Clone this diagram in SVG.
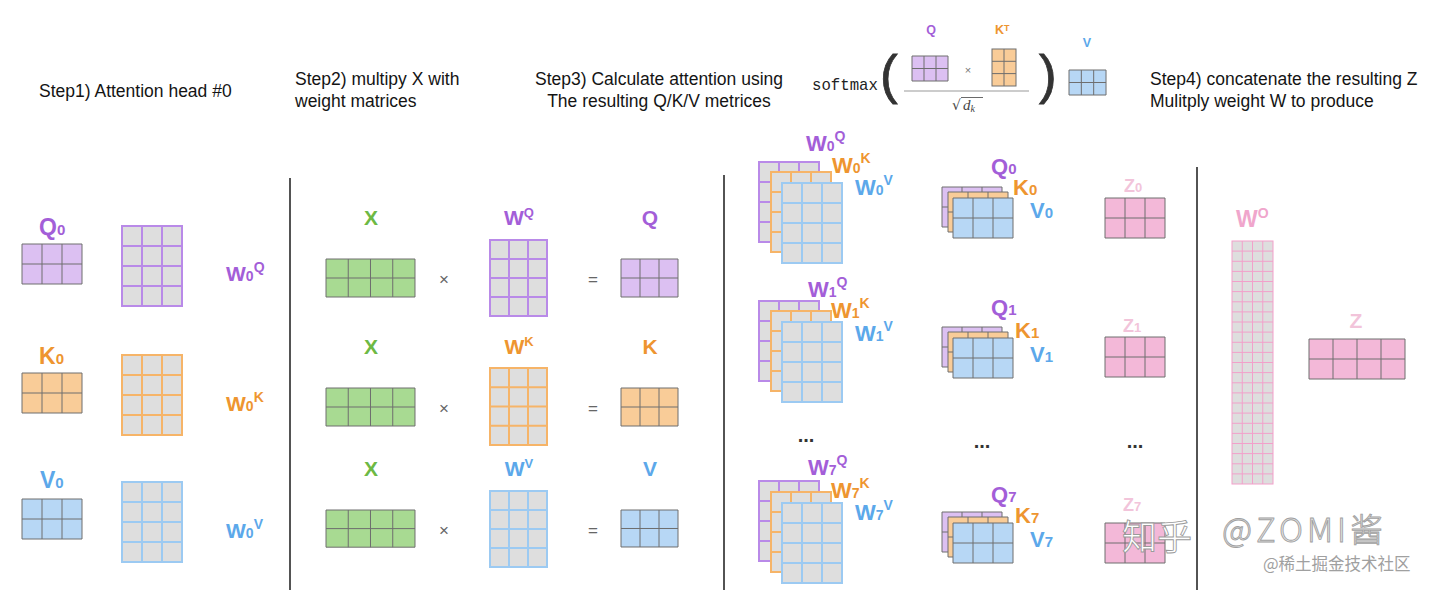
<svg xmlns="http://www.w3.org/2000/svg" xmlns:xlink="http://www.w3.org/1999/xlink" width="1440" height="590" viewBox="0 0 1440 590">
<style>
.step{font-family:"Liberation Sans",Arial,sans-serif;font-size:17.5px;fill:#141414}
.lbl{font-family:"Liberation Sans",Arial,sans-serif;font-weight:bold}
.pu{fill:#a35ed8}.or{fill:#ee9530}.bl{fill:#5ca8ea}.gr{fill:#6db944}.pk{fill:#f2c4da}.pk2{fill:#f0a6cc}
.op{font-family:"Liberation Sans",Arial,sans-serif;font-size:17px;fill:#666}
.dots{font-family:"Liberation Sans",Arial,sans-serif;font-size:20px;font-weight:bold;fill:#333}
.div{stroke:#1a1a1a;stroke-width:1.5}
.wm{stroke-width:2;fill:#dedede}
.mm{stroke:#6e6e6e;stroke-width:1}
</style>
<defs>
<g id="w34">
<rect x="0" y="0" width="60" height="80" class="wm" stroke="currentColor" vector-effect="non-scaling-stroke"/>
<path d="M20 0V80M40 0V80M0 20H60M0 40H60M0 60H60" stroke="currentColor" stroke-width="2" fill="none" vector-effect="non-scaling-stroke"/>
</g>
<g id="m32">
<rect x="0" y="0" width="60" height="40" fill="currentColor" class="mm" vector-effect="non-scaling-stroke"/>
<path d="M20 0V40M40 0V40M0 20H60" class="mm" fill="none" vector-effect="non-scaling-stroke"/>
</g>
<g id="m42">
<rect x="0" y="0" width="96" height="40" fill="currentColor" class="mm" vector-effect="non-scaling-stroke"/>
<path d="M24 0V40M48 0V40M72 0V40M0 20H96" class="mm" fill="none" vector-effect="non-scaling-stroke"/>
</g>
</defs>

<rect width="1440" height="590" fill="#ffffff"/>

<g id="titles">
<text class="step" x="39" y="97">Step1) Attention head #0</text>
<text class="step" x="295" y="85">Step2) multipy X with</text>
<text class="step" x="295" y="107">weight matrices</text>
<text class="step" x="659" y="85" text-anchor="middle">Step3) Calculate attention using</text>
<text class="step" x="659" y="107" text-anchor="middle">The resulting Q/K/V metrices</text>
<text class="step" x="1150" y="85">Step4) concatenate the resulting Z</text>
<text class="step" x="1150" y="107">Mulitply weight W to produce</text>
</g>

<g id="connectors">
<line class="div" x1="290" y1="178" x2="290" y2="590"/>
<line class="div" x1="724" y1="175" x2="724" y2="590"/>
<line class="div" x1="1197" y1="167" x2="1197" y2="590"/>
</g>

<g id="formula">
<text x="812" y="90" font-family="'Liberation Mono','DejaVu Sans Mono',monospace" font-size="15.7" fill="#222">softmax</text>
<text x="880" y="93" font-family="'Liberation Sans',Arial,sans-serif" font-size="53" fill="#333" stroke="#333" stroke-width="0.8">(</text>
<text x="1039" y="93" font-family="'Liberation Sans',Arial,sans-serif" font-size="53" fill="#333" stroke="#333" stroke-width="0.8">)</text>
<text class="lbl pu" x="931" y="34" font-size="12.5" text-anchor="middle">Q</text>
<use href="#m32" transform="translate(912,56) scale(0.6,0.625)" style="color:#dcc0f2"/>
<text x="968" y="74" font-family="'Liberation Sans',Arial,sans-serif" font-size="11" fill="#777" text-anchor="middle">×</text>
<text class="lbl or" x="995" y="34" font-size="12.5">K<tspan font-size="9" dy="-3">T</tspan></text>
<g>
<rect x="992" y="49" width="24" height="37" fill="#f9cc98" class="mm"/>
<path d="M1004 49V86M992 61.3H1016M992 73.6H1016" class="mm" fill="none"/>
</g>
<line x1="904" y1="91" x2="1029" y2="91" stroke="#999" stroke-width="1"/>
<text x="952" y="110" font-family="'DejaVu Serif','Liberation Serif',serif" font-size="14" fill="#444">√</text>
<line x1="961" y1="97.5" x2="983" y2="97.5" stroke="#444" stroke-width="0.8"/>
<text x="963" y="110" font-family="'Liberation Serif',serif" font-style="italic" font-size="15" fill="#444">d<tspan font-size="10" dy="2">k</tspan></text>
<text class="lbl bl" x="1087" y="47" font-size="12.5" text-anchor="middle">V</text>
<use href="#m32" transform="translate(1069,70) scale(0.617,0.625)" style="color:#b7d7f5"/>
</g>

<g id="step1-Q0">
<text class="lbl pu" x="39" y="235" font-size="23">Q<tspan font-size="15">0</tspan></text>
<use href="#m32" x="22" y="244" style="color:#dcc0f2"/>
</g>
<g id="step1-W0Q">
<use href="#w34" x="122" y="226" style="color:#b98ae8"/>
<text class="lbl pu" x="226" y="281" font-size="21">W<tspan font-size="14">0</tspan><tspan font-size="14" dy="-9">Q</tspan></text>
</g>
<g id="step1-K0">
<text class="lbl or" x="39" y="364" font-size="23">K<tspan font-size="15">0</tspan></text>
<use href="#m32" x="22" y="373" style="color:#f9cc98"/>
</g>
<g id="step1-W0K">
<use href="#w34" x="122" y="355" style="color:#f6b468"/>
<text class="lbl or" x="226" y="411" font-size="21">W<tspan font-size="14">0</tspan><tspan font-size="14" dy="-9">K</tspan></text>
</g>
<g id="step1-V0">
<text class="lbl bl" x="40" y="488" font-size="23">V<tspan font-size="15">0</tspan></text>
<use href="#m32" x="22" y="499" style="color:#b7d7f5"/>
</g>
<g id="step1-W0V">
<use href="#w34" x="122" y="482" style="color:#9ccaf2"/>
<text class="lbl bl" x="226" y="538" font-size="21">W<tspan font-size="14">0</tspan><tspan font-size="14" dy="-9">V</tspan></text>
</g>

<g id="step2-row-q">
<text class="lbl gr" x="371" y="225" font-size="21" text-anchor="middle">X</text>
<use href="#m42" transform="translate(326,259) scale(0.927,0.95)" style="color:#a8da92"/>
<text class="op" x="444" y="285" text-anchor="middle">×</text>
<text class="lbl pu" x="519" y="225" font-size="21" text-anchor="middle">W<tspan font-size="13" dy="-8">Q</tspan></text>
<use href="#w34" transform="translate(490,240) scale(0.95)" style="color:#b98ae8"/>
<text class="op" x="593" y="285" text-anchor="middle">=</text>
<text class="lbl pu" x="650" y="225" font-size="21" text-anchor="middle">Q</text>
<use href="#m32" transform="translate(621,259) scale(0.95)" style="color:#dcc0f2"/>
</g>
<g id="step2-row-k">
<text class="lbl gr" x="371" y="354" font-size="21" text-anchor="middle">X</text>
<use href="#m42" transform="translate(326,388) scale(0.927,0.95)" style="color:#a8da92"/>
<text class="op" x="444" y="414" text-anchor="middle">×</text>
<text class="lbl or" x="519" y="354" font-size="21" text-anchor="middle">W<tspan font-size="13" dy="-8">K</tspan></text>
<use href="#w34" transform="translate(490,368) scale(0.95,0.9625)" style="color:#f6b468"/>
<text class="op" x="593" y="414" text-anchor="middle">=</text>
<text class="lbl or" x="650" y="354" font-size="21" text-anchor="middle">K</text>
<use href="#m32" transform="translate(621,388) scale(0.95)" style="color:#f9cc98"/>
</g>
<g id="step2-row-v">
<text class="lbl gr" x="371" y="476" font-size="21" text-anchor="middle">X</text>
<use href="#m42" transform="translate(326,510) scale(0.927,0.93)" style="color:#a8da92"/>
<text class="op" x="444" y="536" text-anchor="middle">×</text>
<text class="lbl bl" x="519" y="476" font-size="21" text-anchor="middle">W<tspan font-size="13" dy="-8">V</tspan></text>
<use href="#w34" transform="translate(490,491) scale(0.95)" style="color:#9ccaf2"/>
<text class="op" x="593" y="536" text-anchor="middle">=</text>
<text class="lbl bl" x="650" y="476" font-size="21" text-anchor="middle">V</text>
<use href="#m32" transform="translate(621,510) scale(0.95,0.925)" style="color:#b7d7f5"/>
</g>

<g id="step3-head0-weights">
<use href="#w34" x="759" y="162" style="color:#b98ae8"/>
<use href="#w34" x="771" y="172" style="color:#f6b468"/>
<use href="#w34" x="782" y="183" style="color:#9ccaf2"/>
<text class="lbl pu" x="806" y="151" font-size="22">W<tspan font-size="14">0</tspan><tspan font-size="14" dy="-10">Q</tspan></text>
<text class="lbl or" x="832" y="173" font-size="22">W<tspan font-size="14">0</tspan><tspan font-size="14" dy="-10">K</tspan></text>
<text class="lbl bl" x="855" y="195" font-size="22">W<tspan font-size="14">0</tspan><tspan font-size="14" dy="-10">V</tspan></text>
</g>
<g id="step3-head0-qkv">
<use href="#m32" x="942" y="187" style="color:#dcc0f2"/>
<use href="#m32" x="948" y="192" style="color:#f9cc98"/>
<use href="#m32" x="953" y="198" style="color:#b7d7f5"/>
<text class="lbl pu" x="991" y="174" font-size="22">Q<tspan font-size="15">0</tspan></text>
<text class="lbl or" x="1013" y="195" font-size="22">K<tspan font-size="15">0</tspan></text>
<text class="lbl bl" x="1030" y="218" font-size="22">V<tspan font-size="15">0</tspan></text>
</g>
<g id="step3-head0-z">
<text class="lbl pk" x="1124" y="192" font-size="18">Z<tspan font-size="13">0</tspan></text>
<use href="#m32" x="1105" y="198" style="color:#f3b8d8"/>
</g>

<g id="step3-head1-weights">
<use href="#w34" x="759" y="301" style="color:#b98ae8"/>
<use href="#w34" x="771" y="311" style="color:#f6b468"/>
<use href="#w34" x="782" y="322" style="color:#9ccaf2"/>
<text class="lbl pu" x="808" y="297" font-size="22">W<tspan font-size="14">1</tspan><tspan font-size="14" dy="-10">Q</tspan></text>
<text class="lbl or" x="831" y="318" font-size="22">W<tspan font-size="14">1</tspan><tspan font-size="14" dy="-10">K</tspan></text>
<text class="lbl bl" x="855" y="341" font-size="22">W<tspan font-size="14">1</tspan><tspan font-size="14" dy="-10">V</tspan></text>
</g>
<g id="step3-head1-qkv">
<use href="#m32" x="942" y="327" style="color:#dcc0f2"/>
<use href="#m32" x="948" y="332" style="color:#f9cc98"/>
<use href="#m32" x="953" y="338" style="color:#b7d7f5"/>
<text class="lbl pu" x="991" y="315" font-size="22">Q<tspan font-size="15">1</tspan></text>
<text class="lbl or" x="1015" y="338" font-size="22">K<tspan font-size="15">1</tspan></text>
<text class="lbl bl" x="1030" y="362" font-size="22">V<tspan font-size="15">1</tspan></text>
</g>
<g id="step3-head1-z">
<text class="lbl pk" x="1123" y="332" font-size="18">Z<tspan font-size="13">1</tspan></text>
<use href="#m32" x="1105" y="337" style="color:#f3b8d8"/>
</g>

<g id="step3-dots">
<text class="dots" x="806" y="442" text-anchor="middle">...</text>
<text class="dots" x="982" y="448" text-anchor="middle">...</text>
<text class="dots" x="1135" y="448" text-anchor="middle">...</text>
</g>

<g id="step3-head7-weights">
<use href="#w34" x="759" y="481" style="color:#b98ae8"/>
<use href="#w34" x="771" y="492" style="color:#f6b468"/>
<use href="#w34" x="782" y="503" style="color:#9ccaf2"/>
<text class="lbl pu" x="808" y="475" font-size="22">W<tspan font-size="14">7</tspan><tspan font-size="14" dy="-10">Q</tspan></text>
<text class="lbl or" x="831" y="498" font-size="22">W<tspan font-size="14">7</tspan><tspan font-size="14" dy="-10">K</tspan></text>
<text class="lbl bl" x="855" y="520" font-size="22">W<tspan font-size="14">7</tspan><tspan font-size="14" dy="-10">V</tspan></text>
</g>
<g id="step3-head7-qkv">
<use href="#m32" x="942" y="512" style="color:#dcc0f2"/>
<use href="#m32" x="948" y="517" style="color:#f9cc98"/>
<use href="#m32" x="953" y="523" style="color:#b7d7f5"/>
<text class="lbl pu" x="991" y="502" font-size="22">Q<tspan font-size="15">7</tspan></text>
<text class="lbl or" x="1015" y="523" font-size="22">K<tspan font-size="15">7</tspan></text>
<text class="lbl bl" x="1030" y="547" font-size="22">V<tspan font-size="15">7</tspan></text>
</g>
<g id="step3-head7-z">
<text class="lbl pk" x="1123" y="511" font-size="18">Z<tspan font-size="13">7</tspan></text>
<use href="#m32" x="1105" y="523" style="color:#f3b8d8"/>
</g>

<g id="step4-WO">
<text class="lbl pk2" x="1236" y="227" font-size="23">W<tspan font-size="14" dy="-9">O</tspan></text>
<rect x="1232" y="241" width="41" height="243" fill="#dedede" stroke="#f2a0ca" stroke-width="1"/>
<path fill="none" stroke="#f2a0ca" stroke-width="1" d="M1242.25 241V484M1252.5 241V484M1262.75 241V484M1232 251.1H1273M1232 261.3H1273M1232 271.4H1273M1232 281.5H1273M1232 291.6H1273M1232 301.8H1273M1232 311.9H1273M1232 322H1273M1232 332.1H1273M1232 342.3H1273M1232 352.4H1273M1232 362.5H1273M1232 372.6H1273M1232 382.8H1273M1232 392.9H1273M1232 403H1273M1232 413.1H1273M1232 423.3H1273M1232 433.4H1273M1232 443.5H1273M1232 453.6H1273M1232 463.8H1273M1232 473.9H1273"/>
</g>
<g id="step4-Z">
<text class="lbl pk" x="1356" y="328" font-size="21" text-anchor="middle">Z</text>
<use href="#m42" x="1309" y="339" style="color:#f3b8d8"/>
</g>

<g id="watermark">
<text x="1122" y="550" font-family="'Noto Sans CJK SC','Noto Sans',sans-serif" font-size="35" fill="#ffffff" stroke="#9a9a9a" stroke-width="0.9">知乎</text>
<text x="1222" y="542" font-family="'Noto Sans CJK SC','Noto Sans',sans-serif" font-size="33" font-weight="300" letter-spacing="4" fill="#e8e8e8" stroke="#a0a0a0" stroke-width="0.9">@ZOMI酱</text>
<text x="1263" y="570" font-family="'Noto Sans CJK SC','Noto Sans',sans-serif" font-size="16.5" fill="#a0a0a0">@稀土掘金技术社区</text>
</g>
</svg>
